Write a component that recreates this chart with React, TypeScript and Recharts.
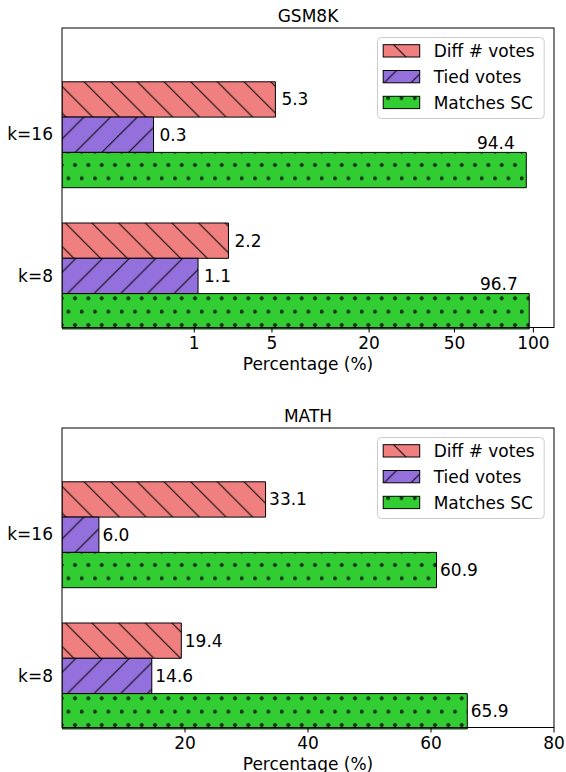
import { Bar, BarChart, LabelList, Legend, XAxis, YAxis } from "recharts";

const groups = ["k=16", "k=8"];
const seriesKeys = ["diff", "tied", "match"];
const seriesNames = ["Diff # votes", "Tied votes", "Matches SC"];

const gsmDiff = [5.3, 2.2];
const gsmTied = [0.3, 1.1];
const gsmMatch = [94.4, 96.7];
const gsmTicks = [1, 5, 20, 50, 100];
const gsmDomain = [0.0006, 117.7];

const mathDiff = [33.1, 19.4];
const mathTied = [6.0, 14.6];
const mathMatch = [60.9, 65.9];
const mathTicks = [20, 40, 60, 80];
const mathDomain = [0, 80];

const FONT = "'DejaVu Sans', 'Liberation Sans', sans-serif";
const W = 566;
const PLOT_L = 62;
const PLOT_R = 554;
const PLOT_T = 28;
const PLOT_B = 327.5;
const AXIS_H = 45;
const BAR = 35.3;
const HATCH = 80 / 3;

const fills: Record<string, string> = {
  diff: "url(#hatch-diff)",
  tied: "url(#hatch-tied)",
  match: "url(#hatch-match)",
};

const textStyle = { fill: "#000", fontSize: 17, fontFamily: FONT };

function buildRows(diff: number[], tied: number[], match: number[]) {
  return groups.map((group, i) => ({ group, diff: diff[i], tied: tied[i], match: match[i] }));
}

const gsmRows = buildRows(gsmDiff, gsmTied, gsmMatch);
const mathRows = buildRows(mathDiff, mathTied, mathMatch);

// x -> x^0.25 stretched onto the pixel range (d3-style scale object)
function quarterPowScale(dom: number[] = [0, 1], rng: number[] = [0, 1]): any {
  const f = (v: number) => Math.pow(Math.max(Number(v), 0), 0.25);
  const scale: any = (v: number) => {
    const a = f(dom[0]);
    const b = f(dom[1]);
    return rng[0] + ((f(v) - a) / (b - a)) * (rng[1] - rng[0]);
  };
  scale.domain = (d?: number[]) => {
    if (!d) return dom.slice();
    dom = d.map(Number);
    return scale;
  };
  scale.range = (r?: number[]) => {
    if (!r) return rng.slice();
    rng = r.map(Number);
    return scale;
  };
  scale.invert = (px: number) => {
    const a = f(dom[0]);
    const b = f(dom[1]);
    const t = a + ((px - rng[0]) / (rng[1] - rng[0])) * (b - a);
    return Math.pow(t, 4);
  };
  scale.copy = () => quarterPowScale(dom.slice(), rng.slice());
  scale.ticks = () => gsmTicks.filter((t) => t >= dom[0] && t <= dom[1]);
  scale.tickFormat = () => (v: number) => String(v);
  scale.nice = () => scale;
  scale.clamp = () => scale;
  return scale;
}

const fmt = (v: any) => Number(v).toFixed(1);

// large values sit above the bar, right-aligned a little before its end
const aboveEnd = (props: any) => {
  const vb = props.viewBox ?? props;
  const x = Number(vb.x) + Number(vb.width);
  const y = Number(vb.y);
  return (
    <text x={x - 11.5} y={y - 3.5} textAnchor="end" {...textStyle}>
      {fmt(props.value)}
    </text>
  );
};

const LEG_X = 377.3;
const LEG_Y = 37.3;
const LEG_W = 167.7;
const LEG_H = 82;

const legendContent = (props: any) => {
  const items = [...(props.payload ?? [])].sort(
    (a: any, b: any) => seriesKeys.indexOf(a.dataKey) - seriesKeys.indexOf(b.dataKey)
  );
  return (
    <svg width={LEG_W} height={LEG_H} style={{ display: "block" }}>
      <g transform={`translate(${-LEG_X},${-LEG_Y})`}>
        <rect
          x={LEG_X + 0.5}
          y={LEG_Y + 0.5}
          width={LEG_W - 1}
          height={LEG_H - 1}
          rx={4}
          fill="#fff"
          fillOpacity={0.8}
          stroke="#cccccc"
        />
        {items.map((entry: any, i: number) => (
          <g key={entry.dataKey}>
            <rect
              x={383.5}
              y={45 + i * 25.8}
              width={36.5}
              height={12.3}
              fill={fills[entry.dataKey]}
              stroke="#000"
              strokeWidth={1}
            />
            <text x={434} y={57.3 + i * 25.8} {...textStyle}>
              {entry.value}
            </text>
          </g>
        ))}
      </g>
    </svg>
  );
};

function Patterns() {
  const P = HATCH;
  const lines = `M0,0 L${P},${P} M-2,${P - 2} L2,${P + 2} M${P - 2},-2 L${P + 2},2`;
  const back = `M0,${P} L${P},0 M-2,2 L2,-2 M${P - 2},${P + 2} L${P + 2},${P - 2}`;
  return (
    <svg width={0} height={0} style={{ position: "absolute" }}>
      <defs>
        <pattern id="hatch-diff" patternUnits="userSpaceOnUse" x={2.3} y={0} width={P} height={P}>
          <rect width={P} height={P} fill="#f08080" />
          <path d={lines} stroke="#000" strokeWidth={1} />
        </pattern>
        <pattern id="hatch-tied" patternUnits="userSpaceOnUse" x={14.3} y={0} width={P} height={P}>
          <rect width={P} height={P} fill="#9370db" />
          <path d={back} stroke="#000" strokeWidth={1} />
        </pattern>
        <pattern id="hatch-match" patternUnits="userSpaceOnUse" x={0} y={0} width={P / 2} height={P}>
          <rect width={P / 2} height={P} fill="#32cd32" />
          <circle cx={1.67} cy={18.33} r={1.5} fill="#145214" stroke="#000" strokeWidth={0.9} />
          <circle cx={8.33} cy={5} r={1.5} fill="#145214" stroke="#000" strokeWidth={0.9} />
        </pattern>
      </defs>
    </svg>
  );
}

type PanelProps = {
  title: string;
  rows: any[];
  top: number;
  height: number;
  xAxisProps: any;
  labelOffset: number;
  matchAbove: boolean;
};

function Panel({ title, rows, top, height, xAxisProps, labelOffset, matchAbove }: PanelProps) {
  return (
    <div style={{ position: "absolute", left: 0, top, width: W, height }}>
      <BarChart
        width={W}
        height={height}
        data={rows}
        layout="vertical"
        barGap={0}
        margin={{ top: PLOT_T, right: W - PLOT_R, bottom: height - PLOT_B - AXIS_H, left: 0 }}
      >
        <XAxis
          type="number"
          {...xAxisProps}
          allowDataOverflow
          height={AXIS_H}
          axisLine={false}
          tickSize={5}
          tickMargin={4}
          tickLine={{ stroke: "#000" }}
          tick={textStyle}
          label={{ value: "Percentage (%)", position: "insideBottom", offset: 2.5, ...textStyle }}
        />
        <YAxis
          type="category"
          dataKey="group"
          width={PLOT_L}
          axisLine={false}
          tickLine={false}
          tickSize={0}
          tickMargin={9}
          padding={{ top: 35.8, bottom: -18.7 }}
          tick={textStyle}
        />
        <Legend
          layout="vertical"
          align="center"
          verticalAlign="middle"
          wrapperStyle={{ left: LEG_X, top: LEG_Y, width: LEG_W, height: LEG_H }}
          content={legendContent}
        />
        {seriesKeys.map((key, i) => (
          <Bar
            key={key}
            dataKey={key}
            name={seriesNames[i]}
            fill={fills[key]}
            stroke="#000"
            strokeWidth={1}
            barSize={BAR}
            isAnimationActive={false}
          >
            {key === "match" && matchAbove ? (
              <LabelList dataKey={key} content={aboveEnd} />
            ) : (
              <LabelList dataKey={key} position="right" offset={labelOffset} formatter={fmt} {...textStyle} />
            )}
          </Bar>
        ))}
      </BarChart>
      <svg
        width={W}
        height={height}
        style={{ position: "absolute", left: 0, top: 0, pointerEvents: "none" }}
      >
        <rect
          x={PLOT_L}
          y={PLOT_T}
          width={PLOT_R - PLOT_L}
          height={PLOT_B - PLOT_T}
          fill="none"
          stroke="#000"
          strokeWidth={1}
        />
        <text x={(PLOT_L + PLOT_R) / 2} y={21.7} textAnchor="middle" {...textStyle}>
          {title}
        </text>
      </svg>
    </div>
  );
}

export default function App() {
  return (
    <div
      style={{
        position: "absolute",
        left: 0,
        top: 0,
        width: W,
        height: 772,
        overflow: "hidden",
        background: "#fff",
      }}
    >
      <Patterns />
      <Panel
        title="GSM8K"
        rows={gsmRows}
        top={0}
        height={380}
        xAxisProps={{ scale: quarterPowScale(), domain: gsmDomain, ticks: gsmTicks }}
        labelOffset={6}
        matchAbove
      />
      <Panel
        title="MATH"
        rows={mathRows}
        top={400}
        height={372}
        xAxisProps={{ domain: mathDomain, ticks: mathTicks }}
        labelOffset={3.5}
        matchAbove={false}
      />
    </div>
  );
}
